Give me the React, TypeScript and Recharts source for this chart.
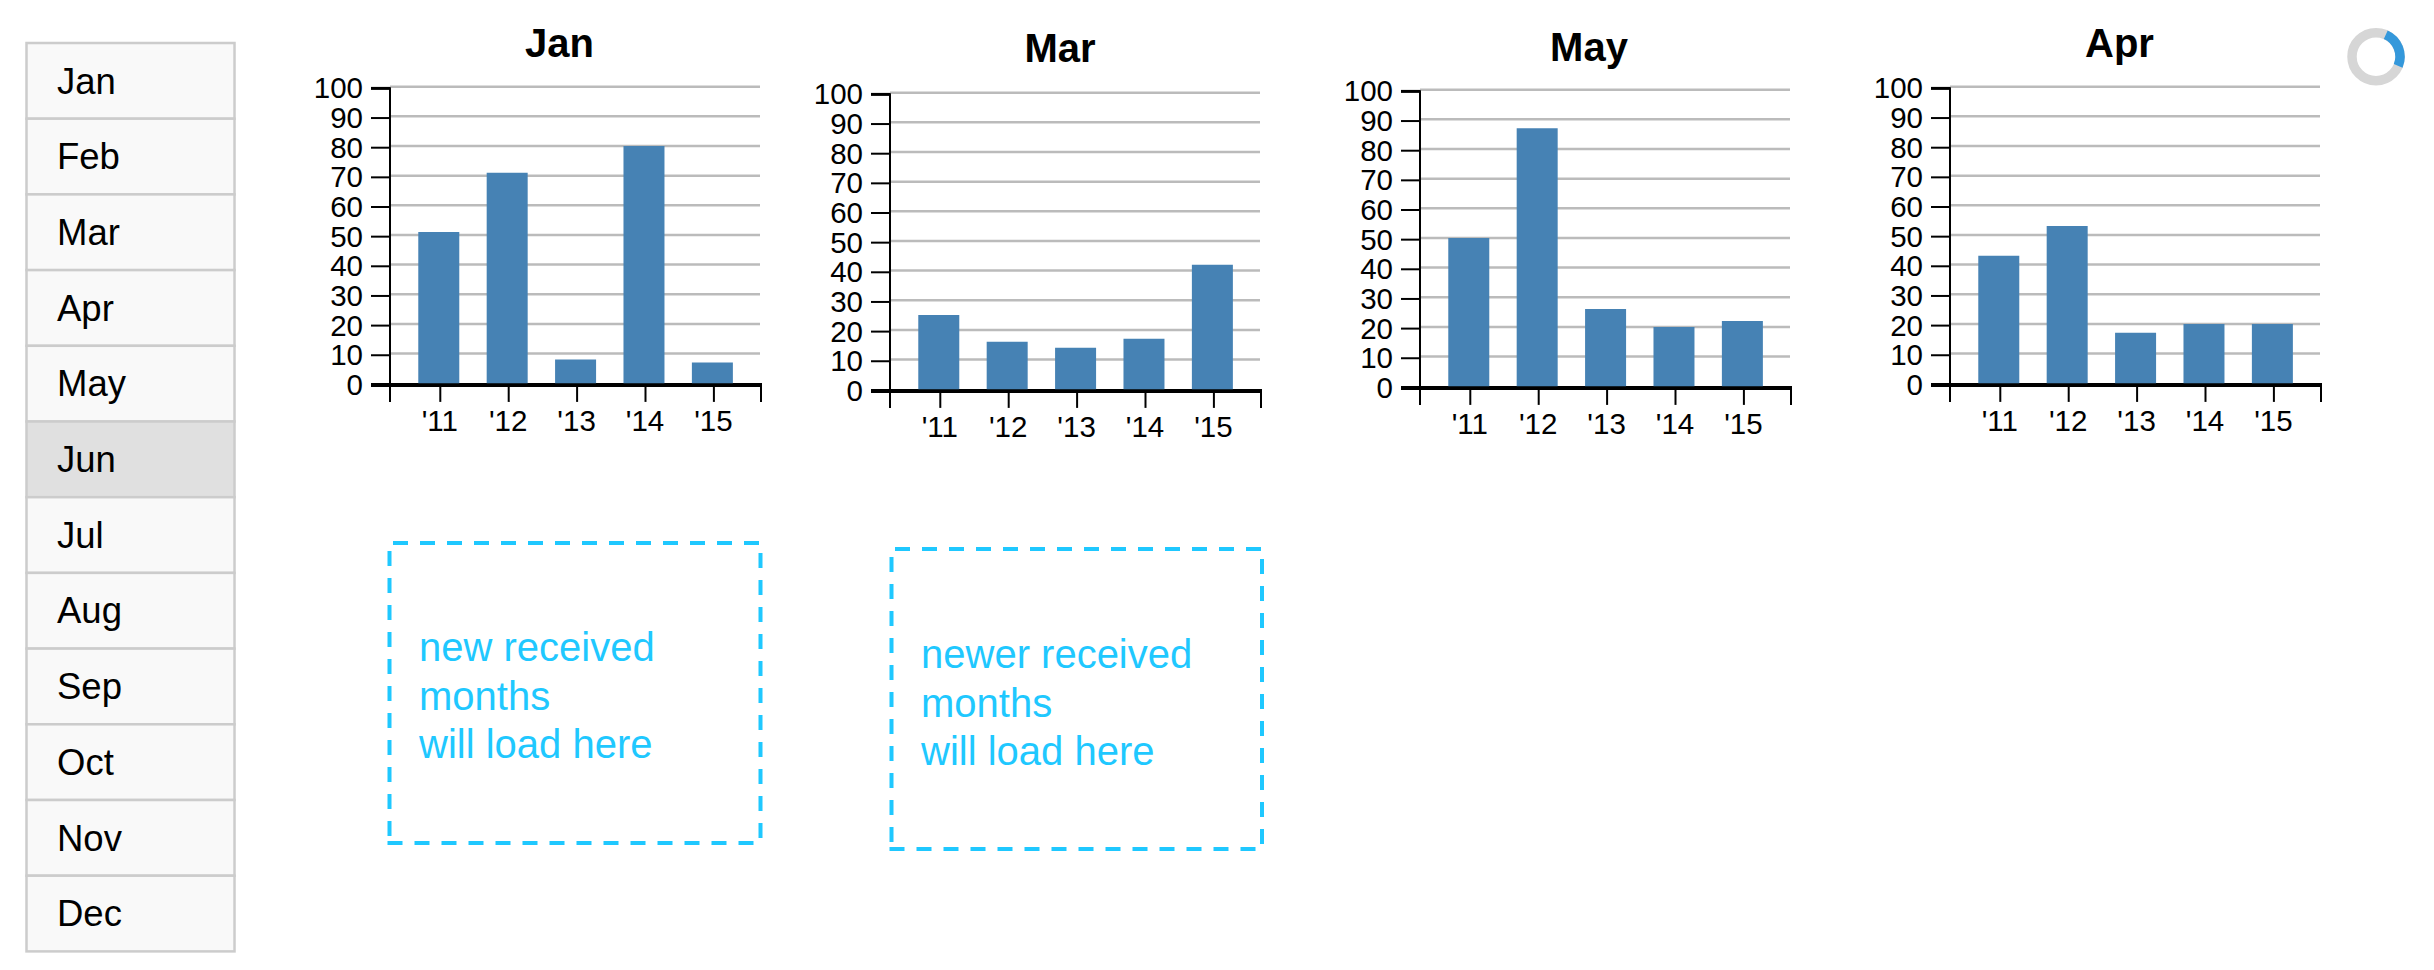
import React from 'react';
import { BarChart, Bar, XAxis, YAxis, CartesianGrid } from 'recharts';

const years = ["'11", "'12", "'13", "'14", "'15"];
const janValues = [51, 71, 8, 80, 7];
const marValues = [25, 16, 14, 17, 42];
const mayValues = [50, 87, 26, 20, 22];
const aprValues = [43, 53, 17, 20, 20];
const yTicks = [0, 10, 20, 30, 40, 50, 60, 70, 80, 90, 100];
const gridValues = [10, 20, 30, 40, 50, 60, 70, 80, 90, 100];
const months = ['Jan', 'Feb', 'Mar', 'Apr', 'May', 'Jun', 'Jul', 'Aug', 'Sep', 'Oct', 'Nov', 'Dec'];
const activeMonth = 'Jun';

const FONT = '"Liberation Sans", Helvetica, Arial, sans-serif';
const PLOT_LEFT = 80;
const PLOT_W = 370;
const PLOT_TOP = 26.7;
const PLOT_H = 296.5;
const PLOT_BOTTOM = PLOT_TOP + PLOT_H;
const TICK_SHIFT = 1.7;
const CHART_W = 470;
const CHART_H = 384;
const BLUE = '#1fc8ff';

function YTick(props: any) {
  const y = props.y + TICK_SHIFT;
  const isTop = props.payload.value === 100;
  const isZero = props.payload.value === 0;
  return (
    <g>
      {!isZero && (
        <line x1={PLOT_LEFT - 19} x2={PLOT_LEFT} y1={y} y2={y} stroke="#000" strokeWidth={isTop ? 3 : 2} />
      )}
      <text x={PLOT_LEFT - 27} y={y + 10} textAnchor="end" fontSize={29.5} fontFamily={FONT} fill="#000">
        {props.payload.value}
      </text>
    </g>
  );
}

function XTick(props: any) {
  const axisY = PLOT_BOTTOM + TICK_SHIFT;
  const x = props.x + 1.5;
  return (
    <g>
      <line x1={x} x2={x} y1={axisY} y2={axisY + 17} stroke="#000" strokeWidth={2} />
      <text x={x - 0.5} y={axisY + 46.5} textAnchor="middle" fontSize={29.5} fontFamily={FONT} fill="#000">
        {props.payload.value}
      </text>
    </g>
  );
}

function MonthChart({ values, left, top }: { values: number[]; left: number; top: number }) {
  const data = years.map((year, i) => ({ year, value: values[i] }));
  const axisY = PLOT_BOTTOM + TICK_SHIFT;
  return (
    <div style={{ position: 'absolute', left, top: top - 20, width: CHART_W, height: CHART_H }}>
      <BarChart
        width={CHART_W}
        height={CHART_H}
        data={data}
        margin={{ top: PLOT_TOP, right: CHART_W - PLOT_LEFT - PLOT_W, bottom: CHART_H - PLOT_BOTTOM - 60, left: 0 }}
        barCategoryGap="20%"
      >
        <CartesianGrid vertical={false} horizontalValues={gridValues} stroke="#bbbbbb" strokeWidth={2.5} />
        <XAxis
          dataKey="year"
          height={60}
          axisLine={false}
          tickLine={false}
          interval={0}
          padding={{ left: 14.6, right: 13.4 }}
          tick={<XTick />}
        />
        <YAxis
          width={PLOT_LEFT}
          domain={[0, 100]}
          ticks={yTicks}
          interval={0}
          axisLine={false}
          tickLine={false}
          tick={<YTick />}
        />
        <Bar dataKey="value" fill="#4682b4" isAnimationActive={false} />
        <line x1={PLOT_LEFT} x2={PLOT_LEFT} y1={PLOT_TOP + 0.5} y2={axisY + 17} stroke="#000" strokeWidth={2} />
        <line x1={PLOT_LEFT + PLOT_W + 1} x2={PLOT_LEFT + PLOT_W + 1} y1={axisY} y2={axisY + 17} stroke="#000" strokeWidth={2} />
        <line x1={PLOT_LEFT - 19} x2={PLOT_LEFT + PLOT_W + 2} y1={axisY} y2={axisY} stroke="#000" strokeWidth={4} />
      </BarChart>
    </div>
  );
}

function DashedBox({ x1, x2, y1, y2, lines, textDy }: { x1: number; x2: number; y1: number; y2: number; lines: string[]; textDy: number }) {
  const dash = { stroke: BLUE, strokeWidth: 4, strokeDasharray: '15 12', fill: 'none' };
  return (
    <g>
      <line x1={x1 + 3.5} x2={x2} y1={y1} y2={y1} {...dash} />
      <line x1={x2} x2={x2} y1={y1 + 10} y2={y2} {...dash} />
      <line x1={x1 - 2} x2={x2} y1={y2} y2={y2} {...dash} />
      <line x1={x1} x2={x1} y1={y1 + 8} y2={y2} {...dash} />
      {lines.map((line, i) => (
        <text key={line} x={x1 + 29.5} y={y1 + 117.7 + textDy + i * 48.5} fontSize={40} fontFamily={FONT} fill={BLUE}>
          {line}
        </text>
      ))}
    </g>
  );
}

function Title({ text, x, y }: { text: string; x: number; y: number }) {
  return (
    <text x={x} y={y} textAnchor="middle" fontSize={40} fontWeight="bold" fontFamily={FONT} fill="#000">
      {text}
    </text>
  );
}

export default function App() {
  const rowH = 75.7;
  const r = 24;
  const circ = 2 * Math.PI * r;
  return (
    <div style={{ position: 'absolute', left: 0, top: 0, width: 2434, height: 970, overflow: 'hidden', background: '#fff' }}>
      <svg width={2434} height={970} style={{ position: 'absolute', left: 0, top: 0 }}>
        {months.map((m, i) => (
          <g key={m}>
            <rect
              x={26.5}
              y={43 + i * rowH}
              width={208}
              height={rowH}
              fill={m === activeMonth ? '#e0e0e0' : '#f9f9f9'}
              stroke="#cccccc"
              strokeWidth={2.5}
            />
            <text x={57} y={93.5 + i * rowH} fontSize={36.5} fontFamily={FONT} fill="#000">
              {m}
            </text>
          </g>
        ))}
        <Title text="Jan" x={559.5} y={56.7} />
        <Title text="Mar" x={1060} y={62.3} />
        <Title text="May" x={1589} y={60.7} />
        <Title text="Apr" x={2119.5} y={56.7} />
        <DashedBox x1={389.5} x2={760.5} y1={543} y2={843} textDy={0.5} lines={['new received', 'months', 'will load here']} />
        <DashedBox x1={891.5} x2={1262} y1={549} y2={849} textDy={1.5} lines={['newer received', 'months', 'will load here']} />
        <g transform="translate(2376 56.7)">
          <circle r={r} fill="none" stroke="#d6d6d6" strokeWidth={9.5} />
          <circle
            r={r}
            fill="none"
            stroke="#3498db"
            strokeWidth={9.5}
            strokeDasharray={`${(circ * 88) / 360} ${circ}`}
            transform="rotate(-66)"
          />
        </g>
      </svg>
      <MonthChart values={janValues} left={310} top={80} />
      <MonthChart values={marValues} left={810} top={86} />
      <MonthChart values={mayValues} left={1339.7} top={83.4} />
      <MonthChart values={aprValues} left={1869.6} top={80} />
    </div>
  );
}
